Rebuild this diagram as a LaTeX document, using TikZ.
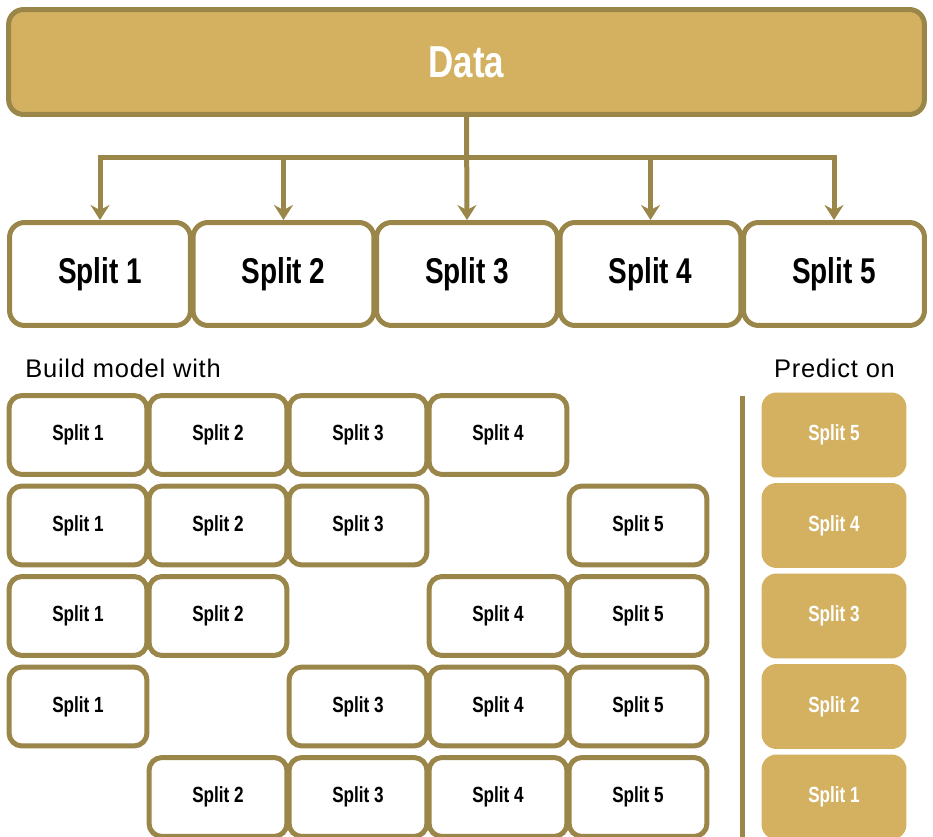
\documentclass[tikz,border=0pt]{standalone}
\usepackage{fontspec}
\setmainfont{Liberation Sans}
\newfontfamily\condfont[FakeStretch=0.78]{Liberation Sans}
\newfontfamily\lblfont[LetterSpace=3]{Liberation Sans}
\usetikzlibrary{arrows.meta}
\definecolor{goldfill}{HTML}{D3B161}
\definecolor{goldline}{HTML}{9A8649}

\begin{document}
\begin{tikzpicture}[x=0.02cm,y=-0.02cm,
  datbox/.style={draw=goldline,fill=goldfill,line width=0.1cm,rounded corners=0.3cm,
    minimum width=18.32cm,minimum height=2.1cm,text=white,
    font=\condfont\bfseries\fontsize{25.5}{30}\selectfont},
  bigsplit/.style={draw=goldline,line width=0.1cm,rounded corners=0.3cm,
    minimum width=3.62cm,minimum height=2.06cm,
    font=\condfont\bfseries\fontsize{20.4}{24}\selectfont},
  trainbox/.style={draw=goldline,line width=0.1cm,rounded corners=0.26cm,
    minimum width=2.76cm,minimum height=1.58cm,
    font=\condfont\bfseries\fontsize{12.5}{15}\selectfont},
  testbox/.style={fill=goldfill,rounded corners=0.3cm,
    minimum width=2.9cm,minimum height=1.7cm,text=white,
    font=\condfont\bfseries\fontsize{12.5}{15}\selectfont},
  lbl/.style={inner sep=0pt,font=\lblfont\fontsize{14.5}{17}\selectfont},
  arr/.style={draw=goldline,line width=0.1cm,-{Stealth[length=0.3cm,width=0.38cm,inset=0.1cm]}},
  ]
\useasboundingbox (0,0) rectangle (933,837);
%% nodes
\node[datbox] (data) at (466.5,62) {Data};
\foreach \i in {1,...,5}
  \node[bigsplit] (s\i) at ({100+183.5*(\i-1)},274) {Split \i};
\coordinate (bar) at (467,157.5);
%%% edges
\draw[arr] (data.south) -- (s3.north);
\foreach \i in {1,2,4,5}
  \draw[arr] (bar) -| (s\i.north);

% labels
\node[lbl,anchor=base west] (buildlbl) at (25,378) {Build model with};
\node[lbl,anchor=base] (predlbl) at (834.5,378) {Predict on};

%% training splits, one left out per row
\foreach \r in {1,...,5}{
  \pgfmathtruncatemacro\leftout{6-\r}
  \foreach \c in {1,...,5}{
    \ifnum\c=\leftout\relax\else
      \node[trainbox] (b\r\c) at ({78+140*(\c-1)},{435+90.5*(\r-1)}) {Split \c};
    \fi
  }
  \node[testbox] (p\r) at (834,{435+90.5*(\r-1)}) {Split \leftout};
}

% divider
\coordinate (vtop) at (742.5,396);
\coordinate (vbot) at (742.5,837);
\draw[goldline,line width=0.1cm] (vtop) -- (vbot);
\end{tikzpicture}
\end{document}
